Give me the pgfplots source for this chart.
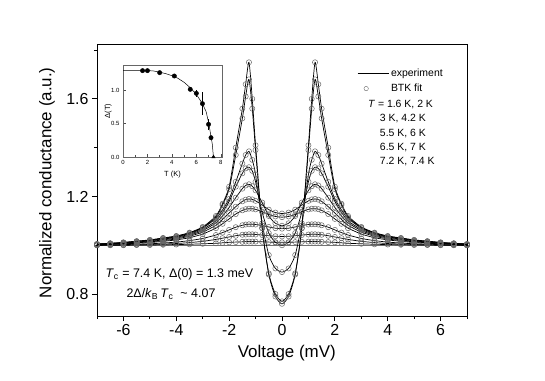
\documentclass[border=0pt]{standalone}
\usepackage{fontspec}
\setmainfont{Liberation Sans}
\usepackage{pgfplots}
\pgfplotsset{compat=1.18}
\usepackage{pgfplotstable}

% normalized conductance, one column per temperature
% a=1.6K b=2K c=3K d=4.2K e=5.5K f=6K g=6.5K h=7K i=7.2K j=7.4K
\pgfplotstableread{
V      a     b     c     d     e     f     g     h     i     j
-7     1.005 1.005 1.004 1.004 1.003 1.003 1.002 1.001 1.000 1.000
-6.5   1.008 1.008 1.007 1.006 1.005 1.005 1.004 1.002 1.001 1.000
-6     1.012 1.011 1.010 1.009 1.008 1.007 1.006 1.003 1.001 1.000
-5.5   1.017 1.016 1.015 1.013 1.012 1.010 1.008 1.004 1.002 1.001
-5     1.022 1.021 1.020 1.018 1.016 1.014 1.011 1.006 1.003 1.001
-4.5   1.030 1.029 1.027 1.025 1.022 1.019 1.016 1.009 1.005 1.002
-4     1.038 1.037 1.035 1.033 1.030 1.026 1.022 1.013 1.007 1.003
-3.5   1.052 1.050 1.048 1.045 1.041 1.037 1.031 1.019 1.011 1.004
-3     1.075 1.073 1.070 1.065 1.060 1.054 1.046 1.028 1.016 1.006
-2.5   1.120 1.115 1.110 1.100 1.092 1.082 1.070 1.042 1.024 1.008
-2.25  1.170 1.165 1.145 1.135 1.120 1.106 1.088 1.052 1.029 1.010
-2     1.240 1.230 1.190 1.180 1.155 1.132 1.108 1.063 1.034 1.012
-1.75  1.400 1.370 1.260 1.240 1.195 1.158 1.128 1.074 1.039 1.013
-1.5   1.560 1.520 1.335 1.295 1.232 1.180 1.143 1.082 1.043 1.014
-1.375 1.660 1.610 1.370 1.315 1.245 1.187 1.148 1.085 1.044 1.015
-1.25  1.750 1.680 1.385 1.320 1.250 1.190 1.150 1.086 1.045 1.015
-1.125 1.600 1.560 1.350 1.305 1.242 1.188 1.150 1.086 1.045 1.015
-1     1.410 1.390 1.290 1.260 1.225 1.182 1.147 1.085 1.044 1.015
-0.75  1.070 1.070 1.090 1.135 1.175 1.165 1.138 1.081 1.042 1.014
-0.5   0.880 0.885 0.960 1.050 1.120 1.146 1.126 1.075 1.039 1.013
-0.25  0.790 0.800 0.905 1.012 1.090 1.134 1.118 1.070 1.037 1.012
0      0.760 0.770 0.890 1.000 1.080 1.130 1.115 1.068 1.036 1.012
0.25   0.790 0.800 0.905 1.012 1.090 1.134 1.118 1.070 1.037 1.012
0.5    0.880 0.885 0.960 1.050 1.120 1.146 1.126 1.075 1.039 1.013
0.75   1.070 1.070 1.090 1.135 1.175 1.165 1.138 1.081 1.042 1.014
1      1.410 1.390 1.290 1.260 1.225 1.182 1.147 1.085 1.044 1.015
1.125  1.600 1.560 1.350 1.305 1.242 1.188 1.150 1.086 1.045 1.015
1.25   1.750 1.680 1.385 1.320 1.250 1.190 1.150 1.086 1.045 1.015
1.375  1.660 1.610 1.370 1.315 1.245 1.187 1.148 1.085 1.044 1.015
1.5    1.560 1.520 1.335 1.295 1.232 1.180 1.143 1.082 1.043 1.014
1.75   1.400 1.370 1.260 1.240 1.195 1.158 1.128 1.074 1.039 1.013
2      1.240 1.230 1.190 1.180 1.155 1.132 1.108 1.063 1.034 1.012
2.25   1.170 1.165 1.145 1.135 1.120 1.106 1.088 1.052 1.029 1.010
2.5    1.120 1.115 1.110 1.100 1.092 1.082 1.070 1.042 1.024 1.008
3      1.075 1.073 1.070 1.065 1.060 1.054 1.046 1.028 1.016 1.006
3.5    1.052 1.050 1.048 1.045 1.041 1.037 1.031 1.019 1.011 1.004
4      1.038 1.037 1.035 1.033 1.030 1.026 1.022 1.013 1.007 1.003
4.5    1.030 1.029 1.027 1.025 1.022 1.019 1.016 1.009 1.005 1.002
5      1.022 1.021 1.020 1.018 1.016 1.014 1.011 1.006 1.003 1.001
5.5    1.017 1.016 1.015 1.013 1.012 1.010 1.008 1.004 1.002 1.001
6      1.012 1.011 1.010 1.009 1.008 1.007 1.006 1.003 1.001 1.000
6.5    1.008 1.008 1.007 1.006 1.005 1.005 1.004 1.002 1.001 1.000
7      1.005 1.005 1.004 1.004 1.003 1.003 1.002 1.001 1.000 1.000
}\cond

% gap vs temperature (inset)
\pgfplotstableread{
T   D     err
1.6 1.295 0
2.0 1.295 0
3.0 1.265 0
4.2 1.215 0.02
5.5 1.015 0.03
6.0 0.955 0.05
6.5 0.800 0.17
7.0 0.490 0.08
7.2 0.290 0.03
}\gap

\pgfplotstableread{
T    D
0    1.300
1    1.300
1.6  1.300
2    1.298
2.5  1.290
3    1.272
3.5  1.250
4    1.220
4.5  1.180
5    1.120
5.5  1.040
6    0.940
6.5  0.800
6.8  0.680
7    0.520
7.2  0.310
7.3  0.200
7.4  0.000
}\bcs

\begin{document}
\begin{tikzpicture}
\path[use as bounding box] (-97bp,-65bp) rectangle (448bp,316bp);
\begin{axis}[
    at={(0,0)}, anchor=south west,
    scale only axis, width=370bp, height=272bp,
    xmin=-7, xmax=7, ymin=0.71, ymax=1.825,
    axis line style={line width=0.9bp},
    tick pos=left, tick align=outside,
    major tick length=5bp, minor tick length=3bp,
    tick style={black, line width=0.8bp},
    xtick={-6,-4,...,6}, minor xtick={-7,-5,...,7},
    ytick={0.8,1.2,1.6}, minor ytick={1.0,1.4,1.8},
    /pgf/number format/assume math mode=true,
    ticklabel style={font=\fontsize{16}{19}\selectfont},
    yticklabel style={/pgf/number format/fixed,
        /pgf/number format/precision=1,
        /pgf/number format/fixed zerofill},
    xlabel={Voltage (mV)},
    ylabel={Normalized conductance (a.u.)},
    label style={font=\fontsize{17}{20}\selectfont},
    xlabel style={at={(axis description cs:0.513,-0.136)}, anchor=center},
    ylabel style={at={(axis description cs:-0.135,0.49)}, anchor=center},
    legend style={at={(axis description cs:0.703,0.918)}, anchor=north west,
        draw=none, fill=none, inner sep=0pt,
        font=\fontsize{10.5}{12}\selectfont, row sep=2.5bp},
    legend cell align=left,
]
\addplot[black!55, line width=0.5bp, forget plot] coordinates {(-7,1) (7,1)};
\pgfplotsinvokeforeach{a,b,c,d,e,f,g,h,i,j}{
  \addplot[black, line width=0.7bp, smooth, tension=0.4, forget plot]
    table[x=V, y=#1] {\cond};
  \addplot[only marks, mark=o, mark size=2.6bp, draw=black!60,
    mark options={line width=0.5bp}, forget plot]
    table[x=V, y=#1] {\cond};
}
\addlegendimage{legend image code/.code={\draw[black, line width=0.7bp] (0bp,0bp) -- (31bp,0bp);}}
\addlegendentry{experiment}
\addlegendimage{only marks, mark=o, mark size=2.2bp, draw=black!60}
\addlegendentry{BTK fit}

\node[anchor=west, inner sep=0pt, font=\fontsize{10.5}{12}\selectfont]
  at (axis cs:3.25,1.577) {\textit{T} = 1.6 K, 2 K};
\node[anchor=west, inner sep=0pt, font=\fontsize{10.5}{12}\selectfont]
  at (axis cs:3.70,1.519) {3 K, 4.2 K};
\node[anchor=west, inner sep=0pt, font=\fontsize{10.5}{12}\selectfont]
  at (axis cs:3.70,1.460) {5.5 K, 6 K};
\node[anchor=west, inner sep=0pt, font=\fontsize{10.5}{12}\selectfont]
  at (axis cs:3.70,1.402) {6.5 K, 7 K};
\node[anchor=west, inner sep=0pt, font=\fontsize{10.5}{12}\selectfont]
  at (axis cs:3.70,1.344) {7.2 K, 7.4 K};

\node[anchor=west, inner sep=0pt, font=\fontsize{12.5}{15}\selectfont]
  at (axis cs:-6.68,0.881) {\textit{T}\textsubscript{c} = 7.4 K, Δ(0) = 1.3 meV};
\node[anchor=west, inner sep=0pt, font=\fontsize{12.5}{15}\selectfont]
  at (axis cs:-5.89,0.800) {2Δ/\textit{k}\textsubscript{B}\,\textit{T}\textsubscript{c} \ \textasciitilde\ 4.07};
\end{axis}

% inset: gap versus temperature
\begin{axis}[
    at={(26bp,159bp)}, anchor=south west,
    scale only axis, width=99bp, height=92bp,
    xmin=0, xmax=8.1, ymin=0, ymax=1.38,
    clip=false,
    axis background/.style={fill=white},
    axis line style={black!60, line width=0.6bp},
    tick pos=left, tick align=inside,
    major tick length=2.5bp, minor tick length=1.5bp,
    tick style={black!70, line width=0.4bp},
    xtick={0,2,...,8}, minor xtick={1,3,5,7},
    ytick={0,0.5,1},
    /pgf/number format/assume math mode=true,
    ticklabel style={font=\fontsize{6}{7}\selectfont},
    yticklabel style={/pgf/number format/fixed,
        /pgf/number format/precision=1,
        /pgf/number format/fixed zerofill},
    xlabel={T (K)}, ylabel={Δ(T)},
    label style={font=\fontsize{7.5}{9}\selectfont},
    xlabel style={at={(axis description cs:0.5,-0.19)}, anchor=center},
    ylabel style={at={(axis description cs:-0.15,0.5)}, anchor=center},
]
\addplot[black, line width=0.5bp] table[x=T, y=D] {\bcs};
\addplot[only marks, mark=*, mark size=2.2bp, black,
    error bars/.cd, y dir=both, y explicit,
    error mark=none, error bar style={line width=0.5bp}]
  table[x=T, y=D, y error=err] {\gap};
\addplot[only marks, mark=triangle*, mark size=2bp, black] coordinates {(7.4,0)};
\end{axis}
\end{tikzpicture}
\end{document}
